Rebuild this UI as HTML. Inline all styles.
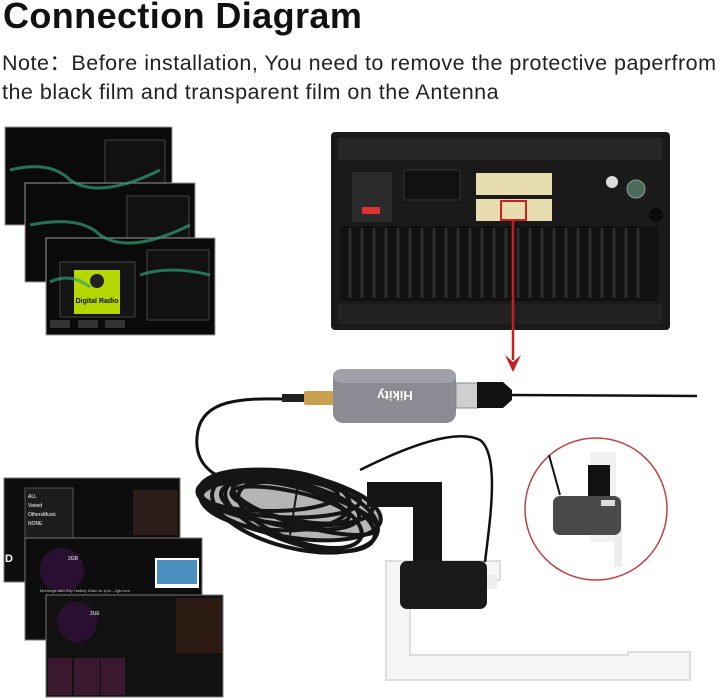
<!DOCTYPE html>
<html><head><meta charset="utf-8"><style>
body{margin:0;width:720px;height:700px;background:#fff;overflow:hidden;position:relative;font-family:"Liberation Sans",sans-serif}
.t{position:absolute;left:3px;top:-5px;font-size:36px;font-weight:bold;color:#111;letter-spacing:0.4px}
.n{position:absolute;left:2px;font-size:21.5px;color:#222;white-space:nowrap;letter-spacing:0.5px}
</style></head><body>
<div class="t">Connection Diagram</div>
<div class="n" style="top:46px">Note：Before installation, You need to remove the protective paperfrom</div>
<div class="n" style="top:80px">the black film and transparent film on the Antenna</div>
<svg width="720" height="700" style="position:absolute;left:0;top:0">
<g>
<rect x="5" y="127" width="167" height="98" fill="#0a0a0a" stroke="#999"/>
<rect x="105" y="140" width="60" height="65" fill="#111" stroke="#444"/>
<rect x="25" y="183" width="170" height="99" fill="#0a0a0a" stroke="#999"/>
<rect x="127" y="196" width="62" height="65" fill="#111" stroke="#444"/>
<rect x="46" y="238" width="169" height="97" fill="#0a0a0a" stroke="#999"/>
<rect x="147" y="250" width="62" height="70" fill="#111" stroke="#444"/>
<rect x="60" y="262" width="75" height="55" fill="#141414" stroke="#444"/>
<rect x="74" y="270" width="46" height="44" fill="#b4d800"/>
<circle cx="97" cy="281" r="7" fill="#222"/>
<text x="97" y="303" font-size="7" text-anchor="middle" fill="#111" font-weight="bold">Digital Radio</text>
<path d="M10 170 q40 -10 60 10 q30 20 90 -10 M30 225 q50 -10 70 10 q30 20 90 -10 M50 282 q20 -10 40 5 M140 275 q30 -10 70 0" stroke="#2fa078" stroke-width="3" fill="none" opacity=".7"/>
<rect x="50" y="320" width="20" height="8" fill="#333"/><rect x="78" y="320" width="20" height="8" fill="#333"/><rect x="105" y="320" width="20" height="8" fill="#333"/>
</g>
<rect x="331" y="132" width="339" height="198" rx="4" fill="#1a1a1a"/>
<rect x="338" y="138" width="324" height="22" fill="#262626"/>
<rect x="340" y="226" width="318" height="75" fill="#111"/>
<g stroke="#2e2e2e" stroke-width="3">
<line x1="350" y1="228" x2="350" y2="298"/><line x1="362" y1="228" x2="362" y2="298"/><line x1="374" y1="228" x2="374" y2="298"/><line x1="386" y1="228" x2="386" y2="298"/><line x1="398" y1="228" x2="398" y2="298"/><line x1="410" y1="228" x2="410" y2="298"/><line x1="422" y1="228" x2="422" y2="298"/><line x1="434" y1="228" x2="434" y2="298"/><line x1="446" y1="228" x2="446" y2="298"/><line x1="458" y1="228" x2="458" y2="298"/><line x1="470" y1="228" x2="470" y2="298"/><line x1="482" y1="228" x2="482" y2="298"/><line x1="494" y1="228" x2="494" y2="298"/><line x1="506" y1="228" x2="506" y2="298"/><line x1="518" y1="228" x2="518" y2="298"/><line x1="530" y1="228" x2="530" y2="298"/><line x1="542" y1="228" x2="542" y2="298"/><line x1="554" y1="228" x2="554" y2="298"/><line x1="566" y1="228" x2="566" y2="298"/><line x1="578" y1="228" x2="578" y2="298"/><line x1="590" y1="228" x2="590" y2="298"/><line x1="602" y1="228" x2="602" y2="298"/><line x1="614" y1="228" x2="614" y2="298"/><line x1="626" y1="228" x2="626" y2="298"/><line x1="638" y1="228" x2="638" y2="298"/>
</g>
<rect x="352" y="172" width="40" height="50" fill="#2b2b2b"/>
<rect x="362" y="207" width="18" height="7" fill="#d33"/>
<rect x="404" y="170" width="56" height="30" fill="#111" stroke="#333"/>
<rect x="476" y="173" width="76" height="22" fill="#e8ddb0"/>
<rect x="476" y="199" width="76" height="22" fill="#e8ddb0"/>
<rect x="501" y="201" width="25" height="19" fill="none" stroke="#c22" stroke-width="2"/>
<circle cx="612" cy="182" r="6" fill="#ddd"/>
<circle cx="636" cy="189" r="9" fill="#4a6a5a" stroke="#999"/>
<circle cx="656" cy="215" r="7" fill="#0a0a0a"/>
<rect x="338" y="304" width="324" height="20" fill="#222"/>
<line x1="513" y1="220" x2="513" y2="360" stroke="#c42020" stroke-width="2.5"/>
<path d="M505 355 L513 372 L521 355 L513 362 Z" fill="#c42020"/>
<path d="M386 561 L500 561 L500 580 L410 580 L410 655 L628 655 L628 652 L690 652 L690 680 L386 680 Z" fill="#f6f6f6" stroke="#ddd" stroke-width="2"/>
<rect x="367" y="482" width="75" height="25" fill="#151515"/>
<rect x="413" y="482" width="29" height="85" fill="#151515"/>
<path d="M285 399 C240 398 205 400 198 430 C192 460 210 480 240 480" stroke="#111" stroke-width="3" fill="none"/>
<path d="M360 470 C420 440 460 430 480 440 C500 455 490 520 485 562" stroke="#111" stroke-width="2.5" fill="none"/>
<g fill="none" stroke="#151515" stroke-width="4">
<ellipse cx="290" cy="505" rx="92" ry="32" transform="rotate(10 290 505)" fill="#2a2a2a" fill-opacity="0.35"/>
<ellipse cx="285" cy="500" rx="88" ry="24" transform="rotate(6 285 500)"/>
<ellipse cx="295" cy="512" rx="85" ry="36" transform="rotate(14 295 512)"/>
<ellipse cx="280" cy="497" rx="80" ry="20" transform="rotate(3 280 497)"/>
<ellipse cx="300" cy="514" rx="78" ry="30" transform="rotate(18 300 514)"/>
<ellipse cx="290" cy="505" rx="70" ry="22" transform="rotate(10 290 505)"/>
<ellipse cx="275" cy="500" rx="75" ry="30" transform="rotate(4 275 500)"/>
<ellipse cx="305" cy="508" rx="75" ry="18" transform="rotate(16 305 508)"/>
<ellipse cx="290" cy="505" rx="60" ry="14" transform="rotate(12 290 505)"/>
<ellipse cx="300" cy="515" rx="65" ry="26" transform="rotate(20 300 515)"/>
<ellipse cx="270" cy="495" rx="68" ry="16" transform="rotate(0 270 495)"/>
<line x1="298" y1="484" x2="290" y2="535" stroke-width="2"/>
</g>
<line x1="510" y1="395" x2="697" y2="396" stroke="#111" stroke-width="2.5"/>
<rect x="282" y="394" width="22" height="8" fill="#222"/>
<rect x="304" y="391" width="30" height="14" rx="2" fill="#c9a050"/>
<rect x="333" y="369" width="123" height="54" rx="10" fill="#8b8b93"/>
<rect x="333" y="369" width="123" height="14" rx="9" fill="#a0a0a8"/>
<text x="395" y="401" font-size="13" font-weight="bold" fill="#fff" text-anchor="middle" transform="rotate(180 395 396)">Hikity</text>
<rect x="456" y="383" width="22" height="25" fill="#cfcfcf" stroke="#888"/>
<path d="M477 382 L503 382 L512 390 L512 400 L503 408 L477 408 Z" fill="#111"/>
<rect x="400" y="561" width="87" height="48" rx="7" fill="#1a1a1a"/>
<rect x="487" y="575" width="10" height="14" fill="#eee"/>
<circle cx="596" cy="509" r="71" fill="#fff" stroke="#c04040" stroke-width="1.5"/>
<rect x="590" y="452" width="26" height="90" fill="#f1f1f1"/>
<rect x="588" y="465" width="22" height="34" fill="#111"/>
<rect x="614" y="497" width="8" height="70" fill="#eee"/>
<line x1="549" y1="455" x2="560" y2="495" stroke="#111" stroke-width="2"/>
<rect x="553" y="496" width="68" height="39" rx="7" fill="#4a4a4a"/>
<rect x="601" y="500" width="14" height="6" fill="#ddd"/>
<rect x="4" y="478" width="176" height="104" fill="#0d0d0d" stroke="#777"/>
<rect x="133" y="490" width="45" height="45" fill="#2a1c18"/>
<rect x="25" y="488" width="48" height="55" fill="#1c1c1c" stroke="#555"/>
<text x="28" y="498" font-size="5" fill="#fff">ALL</text><text x="28" y="507" font-size="5" fill="#fff">Varied</text><text x="28" y="516" font-size="5" fill="#fff">OthersMusic</text><text x="28" y="525" font-size="5" fill="#fff">NONE</text>
<text x="5" y="562" font-size="11" font-weight="bold" fill="#fff">D</text>
<rect x="25" y="538" width="177" height="102" fill="#0d0d0d" stroke="#777"/>
<circle cx="62" cy="570" r="22" fill="#2a1030"/>
<text x="68" y="560" font-size="5" fill="#fff">2GB</text>
<text x="40" y="592" font-size="4" fill="#ccc">Mornings with Ray Hadley 10am to 1pm - 2gb.com</text>
<rect x="155" y="558" width="44" height="30" fill="#fff"/>
<rect x="157" y="560" width="40" height="24" fill="#4a8fc0"/>
<rect x="46" y="595" width="177" height="102" fill="#111" stroke="#777"/>
<circle cx="77" cy="622" r="20" fill="#2a1030"/>
<text x="90" y="615" font-size="5" fill="#fff">2UE</text>
<rect x="176" y="598" width="46" height="55" fill="#2a1a12"/>
<rect x="48" y="658" width="24" height="37" fill="#3a1830"/>
<rect x="74" y="658" width="26" height="37" fill="#3a1830"/>
<rect x="101" y="658" width="24" height="37" fill="#3a1830"/>
</svg>
</body></html>
